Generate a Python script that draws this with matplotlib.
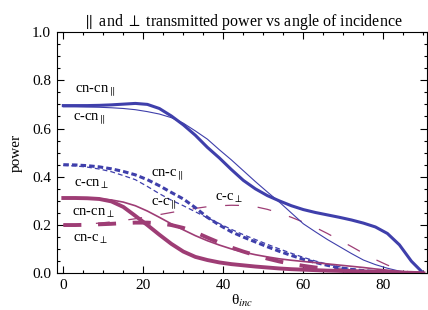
import matplotlib
matplotlib.use("Agg")
import matplotlib.pyplot as plt
from matplotlib.ticker import MultipleLocator, FixedLocator

plt.rcParams['font.family'] = ['Liberation Serif', 'DejaVu Serif']
plt.rcParams['mathtext.fontset'] = 'stix'
plt.rcParams['lines.scale_dashes'] = False

theta = [0, 3, 6, 9, 12, 15, 18, 21, 24, 27, 30, 33, 36, 39, 42, 45,
         48, 51, 54, 57, 60, 63, 66, 69, 72, 75, 78, 81, 84, 87, 90]

cn_cn_par = [0.695, 0.695, 0.695, 0.696, 0.698, 0.701, 0.704, 0.700, 0.683, 0.652, 0.615,
             0.572, 0.522, 0.478, 0.430, 0.385, 0.350, 0.322, 0.300, 0.280, 0.264,
             0.252, 0.242, 0.232, 0.221, 0.208, 0.192, 0.165, 0.118, 0.050, 0.0]
c_cn_par = [0.690, 0.690, 0.689, 0.688, 0.686, 0.683, 0.678, 0.670, 0.660, 0.645, 0.622,
            0.590, 0.556, 0.512, 0.470, 0.425, 0.380, 0.337, 0.295, 0.250, 0.205,
            0.172, 0.140, 0.111, 0.082, 0.055, 0.036, 0.021, 0.009, 0.003, 0.0]
cn_c_par = [0.450, 0.449, 0.446, 0.441, 0.433, 0.422, 0.408, 0.388, 0.363, 0.335, 0.308,
            0.272, 0.232, 0.200, 0.172, 0.150, 0.130, 0.110, 0.091, 0.074, 0.058,
            0.045, 0.033, 0.023, 0.016, 0.011, 0.007, 0.004, 0.002, 0.001, 0.0]
c_c_par = [0.447, 0.445, 0.440, 0.432, 0.421, 0.405, 0.388, 0.360, 0.330, 0.303, 0.280,
           0.255, 0.230, 0.206, 0.182, 0.160, 0.140, 0.120, 0.101, 0.083, 0.066,
           0.051, 0.038, 0.027, 0.019, 0.013, 0.008, 0.005, 0.002, 0.001, 0.0]
thick_perp = [0.312, 0.312, 0.311, 0.308, 0.298, 0.275, 0.238, 0.200, 0.160, 0.122, 0.090,
              0.068, 0.055, 0.045, 0.038, 0.033, 0.028, 0.024, 0.020, 0.017, 0.015,
              0.013, 0.011, 0.010, 0.009, 0.008, 0.006, 0.005, 0.003, 0.002, 0.0]
thin_perp = [0.312, 0.312, 0.311, 0.309, 0.304, 0.295, 0.280, 0.258, 0.232, 0.205, 0.180,
             0.156, 0.135, 0.117, 0.101, 0.088, 0.077, 0.068, 0.060, 0.054, 0.049,
             0.044, 0.039, 0.034, 0.029, 0.024, 0.018, 0.013, 0.008, 0.004, 0.0]
thick_dash_perp = [0.200, 0.200, 0.201, 0.203, 0.205, 0.208, 0.210, 0.210, 0.207, 0.200, 0.188,
                   0.170, 0.148, 0.127, 0.107, 0.090, 0.075, 0.061, 0.049, 0.039, 0.031,
                   0.024, 0.018, 0.013, 0.009, 0.006, 0.004, 0.002, 0.001, 0.0005, 0.0]
c_c_perp = [0.200, 0.201, 0.204, 0.208, 0.213, 0.219, 0.226, 0.234, 0.243, 0.252, 0.261,
            0.269, 0.276, 0.280, 0.282, 0.281, 0.276, 0.265, 0.250, 0.232, 0.212,
            0.190, 0.165, 0.138, 0.111, 0.083, 0.057, 0.034, 0.015, 0.004, 0.0]

labels = [r'cn-cn$_{\parallel}$', r'c-cn$_{\parallel}$', r'cn-c$_{\parallel}$', r'c-c$_{\parallel}$',
          r'c-cn$_{\perp}$', r'cn-cn$_{\perp}$', r'cn-c$_{\perp}$', r'c-c$_{\perp}$']
label_x = [2.9, 2.5, 22.0, 22.0, 2.7, 2.2, 2.5, 38.0]
label_y = [0.757, 0.639, 0.410, 0.290, 0.368, 0.250, 0.139, 0.312]

blue = '#3f3fab'
mag = '#9e3d75'

fig = plt.figure(figsize=(4.28, 3.10), dpi=100)
ax = fig.add_axes([0.1325, 0.1184, 0.8652, 0.7784])

ax.plot(theta, c_c_perp, color=mag, lw=0.9, linestyle=(0, (10, 13.5)))
ax.plot(theta, thick_dash_perp, color=mag, lw=2.8, linestyle=(0, (13, 12)))
ax.plot(theta, c_c_par, color=blue, lw=0.9, linestyle=(0, (3.5, 2.2)))
ax.plot(theta, cn_c_par, color=blue, lw=2.2, linestyle=(0, (4, 2.2)))
ax.plot(theta, c_cn_par, color=blue, lw=0.8)
ax.plot(theta, cn_cn_par, color=blue, lw=2.2)
ax.plot(theta, thin_perp, color=mag, lw=1.2)
ax.plot(theta, thick_perp, color=mag, lw=2.8)

for t, x, y in zip(labels, label_x, label_y):
    ax.text(x, y, t, fontsize=10.5, va='center', ha='left')

ax.set_xlim(-1.65, 90.9)
ax.set_ylim(0, 1.0)
ax.xaxis.set_major_locator(FixedLocator([0, 20, 40, 60, 80]))
ax.xaxis.set_minor_locator(MultipleLocator(5))
ax.yaxis.set_major_locator(FixedLocator([0, 0.2, 0.4, 0.6, 0.8, 1.0]))
ax.yaxis.set_minor_locator(MultipleLocator(0.05))
ax.set_yticklabels(['0.0', '0.2', '0.4', '0.6', '0.8', '1.0'])
ax.tick_params(which='both', direction='in', top=True, right=True, labelsize=11, width=0.8, pad=4)
ax.tick_params(which='major', length=5)
ax.tick_params(which='minor', length=2.5)
for s in ax.spines.values():
    s.set_linewidth(0.8)

ax.set_title(r'$\parallel$ and $\perp$ transmitted power vs angle of incidence', fontsize=11.5, pad=4)
ax.set_xlabel(r'θ$_{inc}$', fontsize=11, labelpad=1)
ax.set_ylabel('power', fontsize=11, labelpad=7)

fig.savefig('out.png', dpi=100)
